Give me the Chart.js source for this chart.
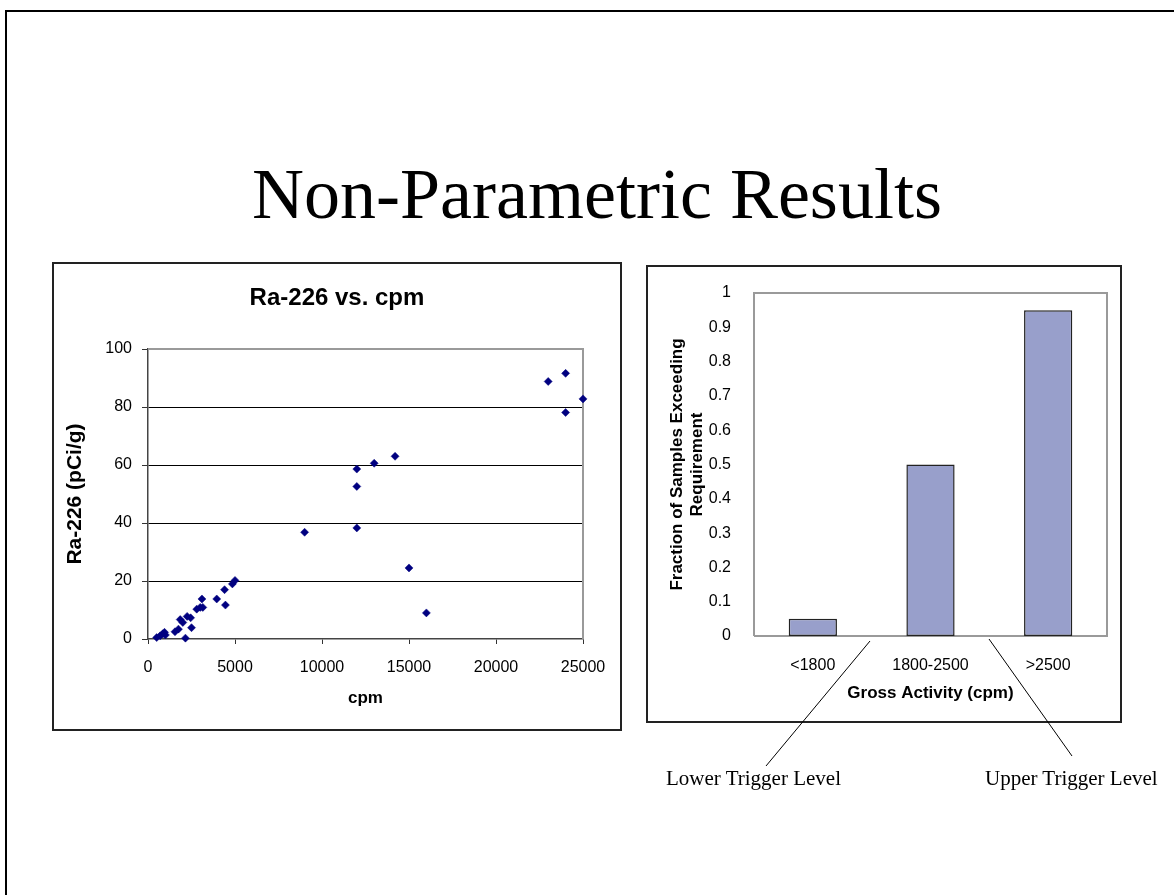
<!DOCTYPE html>
<html>
<head>
<meta charset="utf-8">
<script src="https://cdn.jsdelivr.net/npm/chart.js@4/dist/chart.umd.min.js"></script>
<style>
  html, body { margin: 0; padding: 0; background: #fff; }
  body { width: 1174px; height: 895px; position: relative; overflow: hidden; }
  .frame { position: absolute; left: 5px; top: 10px; width: 1200px; height: 900px;
           border-left: 2px solid #000; border-top: 2px solid #000; }
  .slide-title { position: absolute; left: 10px; top: 158px; width: 1174px; text-align: center;
                 font: 72px/72px "Liberation Serif", "Times New Roman", serif; color: #000; }
  .box { position: absolute; box-sizing: border-box; border: 2px solid #222; background: #fff; }
  canvas { position: absolute; }
  .chart-title { position: absolute; left: 52px; top: 285px; width: 570px; text-align: center;
                 font: bold 24px/24px "Liberation Sans", Arial, sans-serif; color: #000; }
  .note { position: absolute; font: 21px/24px "Liberation Serif", "Times New Roman", serif; color: #000; white-space: nowrap; }
  svg { position: absolute; left: 0; top: 0; pointer-events: none; }
</style>
</head>
<body>
<div class="frame"></div>
<div class="slide-title">Non-Parametric Results</div>

<div class="box" style="left:52px; top:262px; width:570px; height:469px;"></div>
<canvas id="scatterChart" width="569" height="468" style="left:52px; top:262px; width:569px; height:468px;"></canvas>
<div class="chart-title">Ra-226 vs. cpm</div>

<div class="box" style="left:646px; top:265px; width:476px; height:458px;"></div>
<canvas id="barChart" width="475" height="457" style="left:646px; top:265px; width:475px; height:457px;"></canvas>

<svg width="1174" height="895">
  <line x1="870" y1="641" x2="766" y2="766" stroke="#000" stroke-width="1"/>
  <line x1="989" y1="639" x2="1072" y2="756" stroke="#000" stroke-width="1"/>
</svg>
<div class="note" style="left:666px; top:766px;">Lower Trigger Level</div>
<div class="note" style="left:985px; top:766px;">Upper Trigger Level</div>

<script>
// Данные: Ra-226 против скорости счёта
const cpmValues = [500, 700, 850, 950, 1000, 1550, 1750, 1850, 2000, 2150, 2250, 2450, 2500,
  2800, 3000, 3100, 3150, 3950, 4400, 4450, 4850, 5000, 9000, 12000, 12000, 12000,
  13000, 14200, 15000, 16000, 23000, 24000, 24000, 25000];
const raValues = [0.5, 1.1, 1.8, 2.3, 1.4, 2.5, 3.4, 6.7, 5.7, 0.3, 7.8, 7.3, 3.9,
  10.3, 10.9, 13.8, 10.9, 13.8, 17, 11.7, 19, 20.2, 36.8, 58.6, 52.6, 38.3,
  60.6, 63, 24.5, 9, 88.8, 91.6, 78.1, 82.8];

// Данные: доля проб, превышающих требование
const activityBins = ['<1800', '1800-2500', '>2500'];
const fractionExceeding = [0.05, 0.5, 0.95];

Chart.defaults.font.family = '"Liberation Sans", Arial, sans-serif';
Chart.defaults.color = '#000';

// Серая рамка области построения (сверху и справа, либо со всех сторон)
const plotFrame = {
  id: 'plotFrame',
  beforeDatasetsDraw(chart, args, opts) {
    const { ctx, chartArea: a } = chart;
    ctx.save();
    ctx.strokeStyle = opts.color;
    ctx.lineWidth = opts.width;
    ctx.beginPath();
    if (opts.all) {
      ctx.moveTo(a.left, a.bottom);
      ctx.lineTo(a.left, a.top);
    } else {
      ctx.moveTo(a.left, a.top);
    }
    ctx.lineTo(a.right, a.top);
    ctx.lineTo(a.right, a.bottom);
    if (opts.all) ctx.lineTo(a.left, a.bottom);
    ctx.stroke();
    ctx.restore();
  }
};

// Точечный график
new Chart(document.getElementById('scatterChart'), {
  type: 'scatter',
  data: {
    datasets: [{
      data: cpmValues.map((x, i) => ({ x: x, y: raValues[i] })),
      pointStyle: 'rectRot',
      pointRadius: 4,
      backgroundColor: '#000080',
      borderColor: '#000080',
      borderWidth: 0.5,
      clip: false
    }]
  },
  plugins: [plotFrame],
  options: {
    responsive: false,
    animation: false,
    devicePixelRatio: 1,
    layout: { padding: { top: 87, right: 38, bottom: 0, left: 0 } },
    plugins: {
      legend: { display: false },
      tooltip: { enabled: false },
      plotFrame: { color: '#9a9a9a', width: 2, all: false }
    },
    scales: {
      x: {
        type: 'linear', min: 0, max: 25000,
        ticks: { stepSize: 5000, padding: 14, font: { size: 16 }, callback: v => String(v) },
        grid: { drawOnChartArea: false, tickLength: 5, tickColor: '#333' },
        border: { color: '#444', width: 1.5 },
        title: { display: true, text: 'cpm', font: { size: 17, weight: 'bold' }, padding: { top: 0, bottom: 21 } },
        afterFit: s => { s.height = 91; }
      },
      y: {
        min: 0, max: 100,
        ticks: { stepSize: 20, padding: 10, font: { size: 16 } },
        grid: {
          color: c => (c.tick && c.tick.value > 0 && c.tick.value < 100) ? '#000' : 'rgba(0,0,0,0)',
          tickLength: 6, tickColor: '#333', lineWidth: 1
        },
        border: { color: '#444', width: 1.5 },
        title: { display: true, text: 'Ra-226 (pCi/g)', font: { size: 21, weight: 'bold' }, padding: { top: 11, bottom: 0 } },
        afterFit: s => { s.width = 96; }
      }
    }
  }
});

// Столбчатая диаграмма
new Chart(document.getElementById('barChart'), {
  type: 'bar',
  data: {
    labels: activityBins,
    datasets: [{
      data: fractionExceeding,
      backgroundColor: '#989fcb',
      borderColor: '#222',
      borderWidth: 1.5,
      borderSkipped: false,
      categoryPercentage: 1,
      barPercentage: 0.41
    }]
  },
  plugins: [plotFrame],
  options: {
    responsive: false,
    animation: false,
    devicePixelRatio: 1,
    layout: { padding: { top: 28, right: 14, bottom: 0, left: 0 } },
    plugins: {
      legend: { display: false },
      tooltip: { enabled: false },
      plotFrame: { color: '#9a9a9a', width: 2, all: true }
    },
    scales: {
      x: {
        grid: { display: false },
        border: { display: false },
        ticks: { padding: 12, font: { size: 16 } },
        title: { display: true, text: 'Gross Activity (cpm)', font: { size: 17, weight: 'bold' }, padding: { top: 0, bottom: 18 } },
        afterFit: s => { s.height = 86; }
      },
      y: {
        min: 0, max: 1,
        grid: { display: false },
        border: { display: false },
        ticks: { stepSize: 0.1, padding: 15, font: { size: 16 }, callback: v => String(Math.round(v * 10) / 10) },
        title: {
          display: true,
          text: ['Fraction of Samples Exceeding', 'Requirement'],
          font: { size: 17, weight: 'bold' },
          padding: { top: 21, bottom: 0 }
        },
        afterFit: s => { s.width = 108; }
      }
    }
  }
});
</script>
</body>
</html>
